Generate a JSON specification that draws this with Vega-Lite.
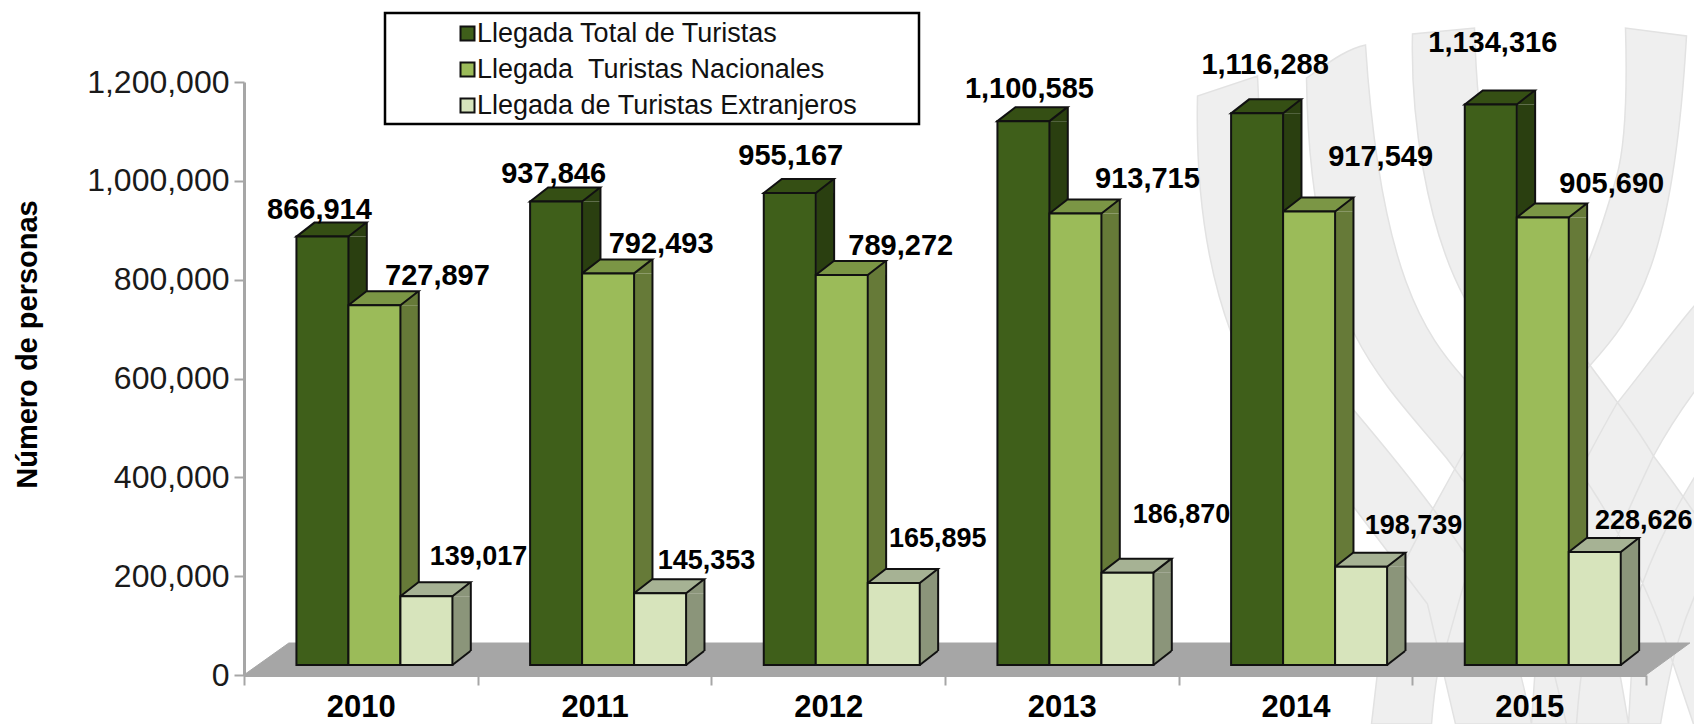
{
"$schema":"https://vega.github.io/schema/vega-lite/v6.json",
"width":1402,"height":593,
"autosize":{"type":"none"},
"padding":{"left":244,"top":82,"right":48,"bottom":49},
"background":"white",
"config":{"font":"Liberation Sans","view":{"stroke":null}},
"encoding":{
 "x":{"field":"year","type":"nominal","scale":{"domain":["2010","2011","2012","2013","2014","2015"],"paddingInner":0,"paddingOuter":0},
  "axis":{"title":null,"labelAngle":0,"tickBand":"extent","zindex":1,"domainColor":"#A6A6A6","domainWidth":3,"tickColor":"#A6A6A6","tickWidth":2,"tickSize":10,"labelFont":"Liberation Sans","labelFontSize":31,"labelFontWeight":"bold","labelColor":"#000000","labelPadding":22,"labelBaseline":"middle"}},
 "y":{"field":"value","type":"quantitative","scale":{"domain":[0,1200000],"nice":false},
  "axis":{"title":"Número de personas","titleX":-217,"titleY":262,"titleFontSize":29,"titleFontWeight":"bold","titleColor":"#000000","titleFont":"Liberation Sans","titleAngle":-90,"titleAlign":"center","titleBaseline":"middle","values":[0,200000,400000,600000,800000,1000000,1200000],"format":",d","grid":false,"zindex":1,"domainColor":"#A6A6A6","domainWidth":3,"tickColor":"#A6A6A6","tickWidth":2,"tickSize":10,"labelFont":"Liberation Sans","labelFontSize":32,"labelColor":"#1a1a1a","labelPadding":5}}
},
"layer":[
 {"data":{"values":[{"year":"2014","value":0}]},
  "mark":{"type":"point","filled":true,"opacity":1,"size":4,"fill":"#EFEFEF","stroke":"#E2E2E2","strokeWidth":1.5,
  "shape":"M-98 -579 C-100 -490 -90 -410 -64 -341 C-30 -280 30 -206 132 -71 L160 49 L236 49 C225 -10 210 -55 201 -71 C170 -125 130 -180 59 -264 C10 -320 -30 -400 -38 -599 Z M11 -597 C12 -520 20 -420 59 -341 C85 -290 120 -255 151 -217 C190 -165 215 -130 236 -94 L271 49 L333 49 C325 0 318 -40 306 -71 C285 -115 270 -160 247 -188 C220 -225 195 -265 169 -296 C130 -340 85 -400 70 -630 C50 -626 30 -610 11 -597 Z M117 -641 C115 -560 130 -450 169 -377 C200 -320 260 -240 295 -188 C320 -150 345 -100 365 -49 L398 49 L460 49 L460 -50 C430 -120 395 -170 358 -219 C340 -250 320 -275 295 -309 C260 -355 240 -390 222 -421 C195 -475 182 -540 179 -647 Z M330 -647 C332 -580 330 -530 321 -498 C310 -460 300 -430 292 -412 C260 -350 210 -290 169 -224 C140 -170 110 -120 90 -71 L76 49 L136 49 C140 0 145 -20 150 -26 C165 -80 180 -135 202 -184 C230 -230 260 -270 294 -309 C340 -360 378 -410 391 -639 Z M440 -415 C400 -375 360 -320 321 -271 C295 -225 265 -170 247 -116 L236 49 L281 49 C285 -10 295 -60 306 -94 C320 -140 340 -180 358 -219 C380 -260 410 -300 440 -335 Z M420 -230 C385 -180 355 -120 340 -71 L333 49 L365 49 C375 -10 385 -60 420 -120 Z"},
  "encoding":{}},
 {"data":{"values":[{"year":"2010","value":0}]},
  "mark":{"type":"point","filled":true,"opacity":1,"size":4,"fill":"#A6A6A6","stroke":"#A6A6A6","strokeWidth":1,"shape":"M-117 0 L-72 -32 L1329 -32 L1285 0 Z"},
  "encoding":{}},
 {"data":{"values":[{"year":"2011","value":1200000}]},
  "mark":{"type":"point","filled":true,"opacity":1,"size":4,"fill":"#FFFFFF","stroke":"#000000","strokeWidth":2.5,"shape":"M-209.5 -69 L324.5 -69 L324.5 42 L-209.5 42 Z"},
  "encoding":{}},
 {"data":{"values":[
  {"year":"2010","serie":"Llegada Total de Turistas","value":866914},
  {"year":"2010","serie":"Llegada \u00a0Turistas Nacionales","value":727897},
  {"year":"2010","serie":"Llegada de Turistas Extranjeros","value":139017},
  {"year":"2011","serie":"Llegada Total de Turistas","value":937846},
  {"year":"2011","serie":"Llegada \u00a0Turistas Nacionales","value":792493},
  {"year":"2011","serie":"Llegada de Turistas Extranjeros","value":145353},
  {"year":"2012","serie":"Llegada Total de Turistas","value":955167},
  {"year":"2012","serie":"Llegada \u00a0Turistas Nacionales","value":789272},
  {"year":"2012","serie":"Llegada de Turistas Extranjeros","value":165895},
  {"year":"2013","serie":"Llegada Total de Turistas","value":1100585},
  {"year":"2013","serie":"Llegada \u00a0Turistas Nacionales","value":913715},
  {"year":"2013","serie":"Llegada de Turistas Extranjeros","value":186870},
  {"year":"2014","serie":"Llegada Total de Turistas","value":1116288},
  {"year":"2014","serie":"Llegada \u00a0Turistas Nacionales","value":917549},
  {"year":"2014","serie":"Llegada de Turistas Extranjeros","value":198739},
  {"year":"2015","serie":"Llegada Total de Turistas","value":1134316},
  {"year":"2015","serie":"Llegada \u00a0Turistas Nacionales","value":905690},
  {"year":"2015","serie":"Llegada de Turistas Extranjeros","value":228626}
 ]},
 "encoding":{"xOffset":{"field":"serie","type":"nominal","scale":{"domain":["Llegada Total de Turistas","Llegada \u00a0Turistas Nacionales","Llegada de Turistas Extranjeros"],"paddingInner":0,"paddingOuter":0.747,"align":0.675}}},
 "layer":[
  {"transform":[{"filter":"indexof(datum.serie,'Total')>=0"}],"mark":{"type":"bar","width":18,"yOffset":-10,"y2Offset":-24,"fill":"#2A3F10"},"encoding":{"y2":{"datum":0},"xOffset":{"value":113.8}}},
  {"transform":[{"filter":"indexof(datum.serie,'Nacionales')>=0"}],"mark":{"type":"bar","width":18,"yOffset":-10,"y2Offset":-24,"fill":"#667A38"},"encoding":{"y2":{"datum":0},"xOffset":{"value":165.8}}},
  {"transform":[{"filter":"indexof(datum.serie,'Extranjeros')>=0"}],"mark":{"type":"bar","width":18,"yOffset":-10,"y2Offset":-24,"fill":"#8B957A"},"encoding":{"y2":{"datum":0},"xOffset":{"value":217.8}}},
  {"mark":{"type":"point","filled":true,"opacity":1,"size":4,"yOffset":-10,"strokeWidth":0,"shape":"M26 0 L44 -14 L44 0 Z"},
   "encoding":{"fill":{"condition":[{"test":"indexof(datum.serie,'Total')>=0","value":"#2A3F10"},{"test":"indexof(datum.serie,'Nacionales')>=0","value":"#667A38"}],"value":"#8B957A"}}},
  {"mark":{"type":"point","filled":true,"opacity":1,"size":4,"yOffset":-10,"strokeWidth":0,"shape":"M26 0 L26 -14 L44 -14 Z"},
   "encoding":{"y":{"datum":0},"fill":{"condition":[{"test":"indexof(datum.serie,'Total')>=0","value":"#2A3F10"},{"test":"indexof(datum.serie,'Nacionales')>=0","value":"#667A38"}],"value":"#8B957A"}}},
  {"mark":{"type":"point","filled":false,"opacity":1,"size":4,"yOffset":-10,"stroke":"#111111","strokeWidth":2,"shape":"M26 0 L44 -14"},
   "encoding":{"y":{"datum":0}}},
  {"transform":[{"filter":"indexof(datum.serie,'Total')>=0"}],"mark":{"type":"bar","width":2,"yOffset":-24,"y2Offset":-24,"fill":"#111111"},"encoding":{"y2":{"datum":0},"xOffset":{"value":122.8}}},
  {"transform":[{"filter":"indexof(datum.serie,'Nacionales')>=0"}],"mark":{"type":"bar","width":2,"yOffset":-24,"y2Offset":-24,"fill":"#111111"},"encoding":{"y2":{"datum":0},"xOffset":{"value":174.8}}},
  {"transform":[{"filter":"indexof(datum.serie,'Extranjeros')>=0"}],"mark":{"type":"bar","width":2,"yOffset":-24,"y2Offset":-24,"fill":"#111111"},"encoding":{"y2":{"datum":0},"xOffset":{"value":226.8}}},
  {"mark":{"type":"point","filled":true,"opacity":1,"size":4,"yOffset":-10,"stroke":"#111111","strokeWidth":2,"shape":"M-26 0 L-8 -14 L44 -14 L26 0 Z"},
   "encoding":{"fill":{"condition":[{"test":"indexof(datum.serie,'Total')>=0","value":"#354F14"},{"test":"indexof(datum.serie,'Nacionales')>=0","value":"#7B9645"}],"value":"#A6B294"}}},
  {"mark":{"type":"bar","yOffset":-10,"y2Offset":-10,"stroke":"#111111","strokeWidth":2},
   "encoding":{"y2":{"datum":0},"color":{"field":"serie","type":"nominal","scale":{"domain":["Llegada Total de Turistas","Llegada \u00a0Turistas Nacionales","Llegada de Turistas Extranjeros"],"range":["#3F5F1A","#9BBB59","#D7E4BC"]},
    "legend":{"title":null,"orient":"none","legendX":210,"legendY":-62,"symbolType":"square","symbolSize":196,"symbolStrokeColor":"#111111","symbolStrokeWidth":2,"symbolOpacity":1,"labelFont":"Liberation Sans","labelFontSize":27,"labelColor":"#111111","labelLimit":600,"rowPadding":8,"labelOffset":-4,"padding":0}}}},
  {"transform":[{"filter":"datum.value==866914"}],"mark":{"type":"text","dx":-3,"dy":-37,"fontSize":29,"fontWeight":"bold","font":"Liberation Sans","fill":"#000000"},"encoding":{"text":{"field":"value","type":"quantitative","format":",d"}}},
  {"transform":[{"filter":"datum.value==727897"}],"mark":{"type":"text","dx":63,"dy":-39,"fontSize":29,"fontWeight":"bold","font":"Liberation Sans","fill":"#000000"},"encoding":{"text":{"field":"value","type":"quantitative","format":",d"}}},
  {"transform":[{"filter":"datum.value==139017"}],"mark":{"type":"text","dx":52,"dy":-49,"fontSize":27,"fontWeight":"bold","font":"Liberation Sans","fill":"#000000"},"encoding":{"text":{"field":"value","type":"quantitative","format":",d"}}},
  {"transform":[{"filter":"datum.value==937846"}],"mark":{"type":"text","dx":-2.5,"dy":-37.5,"fontSize":29,"fontWeight":"bold","font":"Liberation Sans","fill":"#000000"},"encoding":{"text":{"field":"value","type":"quantitative","format":",d"}}},
  {"transform":[{"filter":"datum.value==792493"}],"mark":{"type":"text","dx":53,"dy":-39,"fontSize":29,"fontWeight":"bold","font":"Liberation Sans","fill":"#000000"},"encoding":{"text":{"field":"value","type":"quantitative","format":",d"}}},
  {"transform":[{"filter":"datum.value==145353"}],"mark":{"type":"text","dx":46.5,"dy":-42,"fontSize":27,"fontWeight":"bold","font":"Liberation Sans","fill":"#000000"},"encoding":{"text":{"field":"value","type":"quantitative","format":",d"}}},
  {"transform":[{"filter":"datum.value==955167"}],"mark":{"type":"text","dx":1,"dy":-47,"fontSize":29,"fontWeight":"bold","font":"Liberation Sans","fill":"#000000"},"encoding":{"text":{"field":"value","type":"quantitative","format":",d"}}},
  {"transform":[{"filter":"datum.value==789272"}],"mark":{"type":"text","dx":59,"dy":-39,"fontSize":29,"fontWeight":"bold","font":"Liberation Sans","fill":"#000000"},"encoding":{"text":{"field":"value","type":"quantitative","format":",d"}}},
  {"transform":[{"filter":"datum.value==165895"}],"mark":{"type":"text","dx":44,"dy":-54,"fontSize":27,"fontWeight":"bold","font":"Liberation Sans","fill":"#000000"},"encoding":{"text":{"field":"value","type":"quantitative","format":",d"}}},
  {"transform":[{"filter":"datum.value==1100585"}],"mark":{"type":"text","dx":6,"dy":-42.5,"fontSize":29,"fontWeight":"bold","font":"Liberation Sans","fill":"#000000"},"encoding":{"text":{"field":"value","type":"quantitative","format":",d"}}},
  {"transform":[{"filter":"datum.value==913715"}],"mark":{"type":"text","dx":72,"dy":-44.5,"fontSize":29,"fontWeight":"bold","font":"Liberation Sans","fill":"#000000"},"encoding":{"text":{"field":"value","type":"quantitative","format":",d"}}},
  {"transform":[{"filter":"datum.value==186870"}],"mark":{"type":"text","dx":54,"dy":-68,"fontSize":27,"fontWeight":"bold","font":"Liberation Sans","fill":"#000000"},"encoding":{"text":{"field":"value","type":"quantitative","format":",d"}}},
  {"transform":[{"filter":"datum.value==1116288"}],"mark":{"type":"text","dx":8,"dy":-58.5,"fontSize":29,"fontWeight":"bold","font":"Liberation Sans","fill":"#000000"},"encoding":{"text":{"field":"value","type":"quantitative","format":",d"}}},
  {"transform":[{"filter":"datum.value==917549"}],"mark":{"type":"text","dx":71.5,"dy":-64.5,"fontSize":29,"fontWeight":"bold","font":"Liberation Sans","fill":"#000000"},"encoding":{"text":{"field":"value","type":"quantitative","format":",d"}}},
  {"transform":[{"filter":"datum.value==198739"}],"mark":{"type":"text","dx":52.5,"dy":-51,"fontSize":27,"fontWeight":"bold","font":"Liberation Sans","fill":"#000000"},"encoding":{"text":{"field":"value","type":"quantitative","format":",d"}}},
  {"transform":[{"filter":"datum.value==1134316"}],"mark":{"type":"text","dx":2,"dy":-71.5,"fontSize":29,"fontWeight":"bold","font":"Liberation Sans","fill":"#000000"},"encoding":{"text":{"field":"value","type":"quantitative","format":",d"}}},
  {"transform":[{"filter":"datum.value==905690"}],"mark":{"type":"text","dx":69,"dy":-43.5,"fontSize":29,"fontWeight":"bold","font":"Liberation Sans","fill":"#000000"},"encoding":{"text":{"field":"value","type":"quantitative","format":",d"}}},
  {"transform":[{"filter":"datum.value==228626"}],"mark":{"type":"text","dx":49,"dy":-41,"fontSize":27,"fontWeight":"bold","font":"Liberation Sans","fill":"#000000"},"encoding":{"text":{"field":"value","type":"quantitative","format":",d"}}}
 ]}
]
}
